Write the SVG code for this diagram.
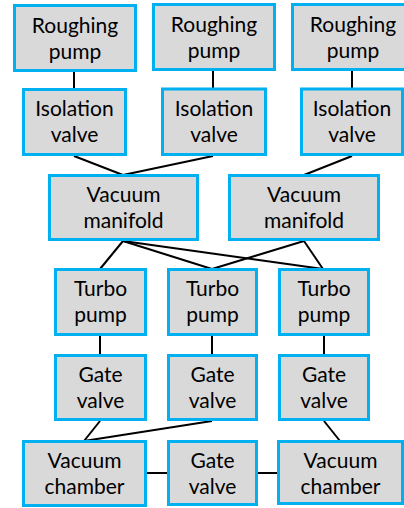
<svg xmlns="http://www.w3.org/2000/svg" width="404" height="508" viewBox="0 0 404 508">
<style>
.box{fill:#D9D9D9;stroke:#00B0F0;stroke-width:3}
.lbl{font-family:Lato,"Liberation Sans",sans-serif;font-size:21px;fill:#000;text-anchor:middle}
.con line{stroke:#000;stroke-width:2}
</style>
<rect width="404" height="508" fill="#fff"/>
<g class="con" id="connectors">
<line x1="74" y1="72" x2="74" y2="88"/>
<line x1="213" y1="71" x2="213" y2="88"/>
<line x1="352" y1="71" x2="352" y2="88"/>
<line x1="74" y1="156" x2="123" y2="175"/>
<line x1="213" y1="156" x2="123" y2="175"/>
<line x1="352" y1="156" x2="304" y2="175"/>
<line x1="123" y1="241" x2="100" y2="269"/>
<line x1="123" y1="241" x2="212" y2="269"/>
<line x1="123" y1="241" x2="323" y2="269"/>
<line x1="304" y1="241" x2="212" y2="269"/>
<line x1="304" y1="241" x2="323" y2="269"/>
<line x1="100" y1="336" x2="100" y2="354"/>
<line x1="212" y1="336" x2="212" y2="354"/>
<line x1="324" y1="336" x2="324" y2="354"/>
<line x1="100" y1="421" x2="84" y2="441"/>
<line x1="212" y1="421" x2="84" y2="441"/>
<line x1="324" y1="421" x2="340" y2="441"/>
<line x1="147" y1="473" x2="167" y2="473"/>
<line x1="258" y1="473" x2="278" y2="473"/>
</g>
<g id="rough1"><rect class="box" x="14.5" y="5.5" width="121" height="65"/><text class="lbl" x="75" y="33">Roughing</text><text class="lbl" x="75" y="59">pump</text></g>
<g id="rough2"><rect class="box" x="153.5" y="4.5" width="121" height="65"/><text class="lbl" x="214" y="32">Roughing</text><text class="lbl" x="214" y="58">pump</text></g>
<g id="rough3"><rect class="box" x="292.5" y="4.5" width="121" height="65"/><text class="lbl" x="353" y="32">Roughing</text><text class="lbl" x="353" y="58">pump</text></g>
<g id="iso1"><rect class="box" x="23.5" y="89.5" width="102" height="65"/><text class="lbl" x="74.5" y="116">Isolation</text><text class="lbl" x="74.5" y="142">valve</text></g>
<g id="iso2"><rect class="box" x="162.5" y="89" width="103" height="65.5"/><text class="lbl" x="214" y="116">Isolation</text><text class="lbl" x="214" y="142">valve</text></g>
<g id="iso3"><rect class="box" x="301.5" y="89" width="101" height="65.5"/><text class="lbl" x="352" y="116">Isolation</text><text class="lbl" x="352" y="142">valve</text></g>
<g id="manifold1"><rect class="box" x="49.5" y="175.5" width="148" height="64"/><text class="lbl" x="123.5" y="202">Vacuum</text><text class="lbl" x="123.5" y="228">manifold</text></g>
<g id="manifold2"><rect class="box" x="229.5" y="175.5" width="149" height="64"/><text class="lbl" x="304" y="202">Vacuum</text><text class="lbl" x="304" y="228">manifold</text></g>
<g id="turbo1"><rect class="box" x="55.5" y="269.5" width="90" height="65"/><text class="lbl" x="100.5" y="296">Turbo</text><text class="lbl" x="100.5" y="322">pump</text></g>
<g id="turbo2"><rect class="box" x="168.5" y="269.5" width="88" height="65"/><text class="lbl" x="212.5" y="296">Turbo</text><text class="lbl" x="212.5" y="322">pump</text></g>
<g id="turbo3"><rect class="box" x="279.5" y="269.5" width="89" height="65"/><text class="lbl" x="324" y="296">Turbo</text><text class="lbl" x="324" y="322">pump</text></g>
<g id="gate1"><rect class="box" x="55.5" y="355.5" width="90" height="64"/><text class="lbl" x="100.5" y="382">Gate</text><text class="lbl" x="100.5" y="408">valve</text></g>
<g id="gate2"><rect class="box" x="168.5" y="355.5" width="88" height="64"/><text class="lbl" x="212.5" y="382">Gate</text><text class="lbl" x="212.5" y="408">valve</text></g>
<g id="gate3"><rect class="box" x="279.5" y="355.5" width="89" height="64"/><text class="lbl" x="324" y="382">Gate</text><text class="lbl" x="324" y="408">valve</text></g>
<g id="chamber1"><rect class="box" x="23.5" y="441.5" width="122" height="64"/><text class="lbl" x="84.5" y="468">Vacuum</text><text class="lbl" x="84.5" y="494">chamber</text></g>
<g id="gatemid"><rect class="box" x="168.5" y="441.5" width="88" height="63"/><text class="lbl" x="212.5" y="468">Gate</text><text class="lbl" x="212.5" y="494">valve</text></g>
<g id="chamber2"><rect class="box" x="278.5" y="441.5" width="124" height="62"/><text class="lbl" x="340.5" y="468">Vacuum</text><text class="lbl" x="340.5" y="494">chamber</text></g>
</svg>
